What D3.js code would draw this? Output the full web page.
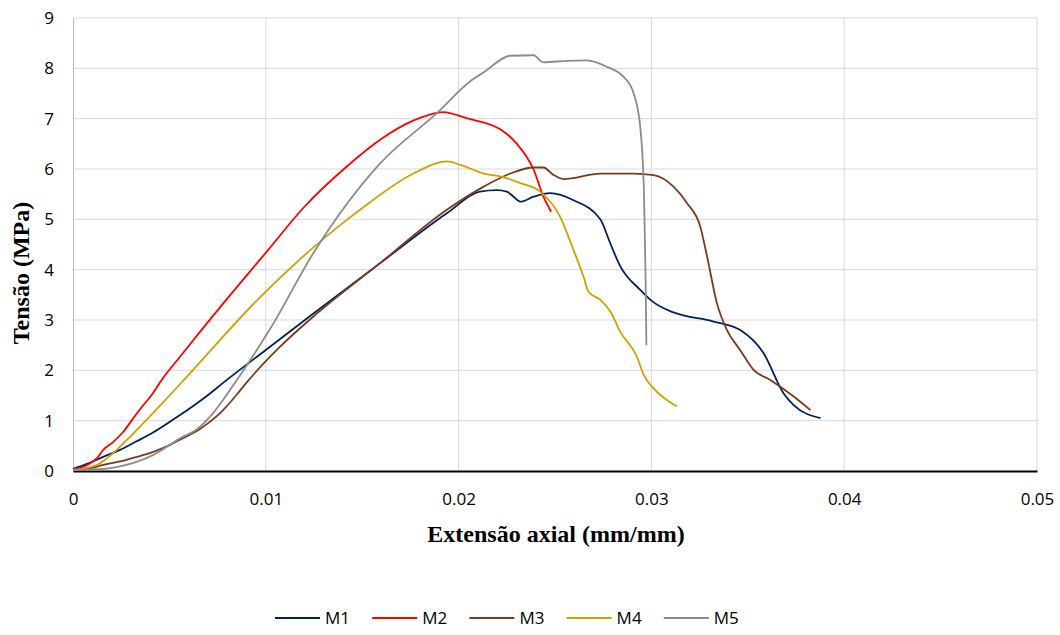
<!DOCTYPE html>
<html lang="pt">
<head>
<meta charset="UTF-8">
<title>Tensão x Extensão axial</title>
<script src="https://d3js.org/d3.v7.min.js"></script>
<style>
  body { margin: 0; background: #fff; }
  .tick text { font-family: "Open Sans", "Liberation Sans", sans-serif; font-size: 17px; fill: #000; }
</style>
</head>
<body>
<svg id="chart" width="1060" height="635"></svg>
<script>
// data
const xTicks = [0, 0.01, 0.02, 0.03, 0.04, 0.05];
const yTicks = [0, 1, 2, 3, 4, 5, 6, 7, 8, 9];
const seriesNames = ['M1', 'M2', 'M3', 'M4', 'M5'];
const seriesColors = ['#002060', '#ff0000', '#7b3a1c', '#d4a000', '#8c8c8c'];

const m1x = [0, 0.0008, 0.00157, 0.00244, 0.0033, 0.00417, 0.00503, 0.0059, 0.0068, 0.00798, 0.01005, 0.01247, 0.01593, 0.01939, 0.0211, 0.02199, 0.0225, 0.02285, 0.0232, 0.02389, 0.02475, 0.02596, 0.02735, 0.02787, 0.02838, 0.02942, 0.03012, 0.03115, 0.03323, 0.03461, 0.03582, 0.03686, 0.03738, 0.03877];
const m1y = [0.04, 0.15, 0.28, 0.42, 0.59, 0.77, 0.98, 1.2, 1.45, 1.81, 2.42, 3.13, 4.13, 5.12, 5.55, 5.58, 5.55, 5.45, 5.35, 5.45, 5.52, 5.38, 5.0, 4.52, 4.07, 3.60, 3.35, 3.15, 2.97, 2.80, 2.34, 1.54, 1.31, 1.05];

const m2x = [0, 0.00036, 0.00088, 0.00123, 0.00157, 0.00209, 0.00261, 0.00313, 0.00365, 0.00408, 0.0046, 0.00555, 0.0079, 0.01005, 0.012, 0.0142, 0.016, 0.0177, 0.0192, 0.0204, 0.0222, 0.023, 0.0239, 0.0244, 0.0248];
const m2y = [0.03, 0.06, 0.15, 0.25, 0.42, 0.58, 0.78, 1.05, 1.31, 1.51, 1.81, 2.27, 3.38, 4.36, 5.25, 6.05, 6.6, 6.97, 7.13, 7.01, 6.78, 6.51, 5.98, 5.45, 5.15];

const m3x = [0, 0.00088, 0.00157, 0.00244, 0.0033, 0.00417, 0.00503, 0.00555, 0.0066, 0.00771, 0.0085, 0.0091, 0.01074, 0.01247, 0.01593, 0.01939, 0.0213, 0.02268, 0.02389, 0.0244, 0.02493, 0.02545, 0.02735, 0.02908, 0.03012, 0.03115, 0.03185, 0.03254, 0.03289, 0.0334, 0.03392, 0.03461, 0.0353, 0.03617, 0.03738, 0.03825];
const m3y = [0.02, 0.05, 0.12, 0.19, 0.28, 0.38, 0.52, 0.62, 0.84, 1.18, 1.52, 1.80, 2.47, 3.07, 4.13, 5.19, 5.65, 5.91, 6.03, 6.03, 5.88, 5.80, 5.91, 5.91, 5.88, 5.65, 5.32, 4.85, 4.26, 3.33, 2.80, 2.40, 2.01, 1.81, 1.48, 1.21];

const m4x = [0, 0.00123, 0.00175, 0.00227, 0.00296, 0.00365, 0.00434, 0.00503, 0.00573, 0.00962, 0.0142, 0.01489, 0.01766, 0.01939, 0.0201, 0.0213, 0.0222, 0.0232, 0.02423, 0.02527, 0.02596, 0.02648, 0.02674, 0.02735, 0.02787, 0.02838, 0.02925, 0.0296, 0.03012, 0.03133];
const m4y = [0.02, 0.12, 0.25, 0.42, 0.68, 0.95, 1.23, 1.51, 1.80, 3.42, 4.99, 5.19, 5.91, 6.15, 6.08, 5.91, 5.85, 5.72, 5.55, 5.05, 4.39, 3.86, 3.56, 3.40, 3.17, 2.77, 2.27, 1.91, 1.64, 1.28];

const m5x = [0, 0.00157, 0.00244, 0.0033, 0.00417, 0.00503, 0.00555, 0.0064, 0.0072, 0.0085, 0.01022, 0.01247, 0.01593, 0.01887, 0.02069, 0.0213, 0.02268, 0.02389, 0.0244, 0.02562, 0.02666, 0.0277, 0.02856, 0.02908, 0.02942, 0.02962, 0.0297, 0.02974];
const m5y = [0.02, 0.04, 0.09, 0.18, 0.32, 0.52, 0.65, 0.82, 1.12, 1.81, 2.82, 4.33, 6.11, 7.11, 7.77, 7.92, 8.25, 8.26, 8.12, 8.15, 8.16, 8.03, 7.83, 7.50, 6.84, 5.45, 3.79, 2.50];

const allX = [m1x, m2x, m3x, m4x, m5x];
const allY = [m1y, m2y, m3y, m4y, m5y];

const svg = d3.select('#chart');
const plot = { left: 73, right: 1037, top: 18, bottom: 471 };

const x = d3.scaleLinear().domain([0, 0.05]).range([plot.left, plot.right]);
const y = d3.scaleLinear().domain([0, 9]).range([plot.bottom, plot.top]);

// gridlines
svg.append('g')
    .selectAll('line')
    .data(yTicks.slice(1))
    .enter().append('line')
    .attr('x1', plot.left).attr('x2', plot.right)
    .attr('y1', d => y(d)).attr('y2', d => y(d))
    .attr('stroke', '#d9d9d9').attr('stroke-width', 1);

svg.append('g')
    .selectAll('line')
    .data(xTicks.slice(1))
    .enter().append('line')
    .attr('x1', d => x(d)).attr('x2', d => x(d))
    .attr('y1', plot.top).attr('y2', plot.bottom)
    .attr('stroke', '#d9d9d9').attr('stroke-width', 1);

// y axis
const yAxis = svg.append('g')
    .attr('transform', `translate(${plot.left},0)`)
    .call(d3.axisLeft(y).tickValues(yTicks).tickSize(0).tickPadding(19).tickFormat(d3.format('d')));
yAxis.select('.domain').attr('stroke', '#bfbfbf');

// x axis
const xAxis = svg.append('g')
    .attr('transform', `translate(0,${plot.bottom})`)
    .call(d3.axisBottom(x).tickValues(xTicks).tickSize(0).tickPadding(22).tickFormat(d => d === 0 ? '0' : d3.format('.2f')(d)));
xAxis.select('.domain').attr('stroke', '#000').attr('stroke-width', 2);

// lines
const line = d3.line()
    .x(d => x(d[0]))
    .y(d => y(d[1]))
    .curve(d3.curveMonotoneX);

seriesNames.forEach((name, i) => {
    const pts = allX[i].map((v, j) => [v, allY[i][j]]);
    svg.append('path')
        .datum(pts)
        .attr('fill', 'none')
        .attr('stroke', seriesColors[i])
        .attr('stroke-width', 1.8)
        .attr('d', line);
});

// axis titles
svg.append('text')
    .attr('x', 556)
    .attr('y', 542)
    .attr('text-anchor', 'middle')
    .style('font-family', '"Liberation Serif", serif')
    .style('font-weight', 'bold')
    .style('font-size', '24px')
    .text('Extensão axial (mm/mm)');

svg.append('text')
    .attr('transform', 'translate(29,273) rotate(-90)')
    .attr('text-anchor', 'middle')
    .style('font-family', '"Liberation Serif", serif')
    .style('font-weight', 'bold')
    .style('font-size', '24px')
    .text('Tensão (MPa)');

// legend
const legend = svg.append('g')
    .selectAll('.legend-item')
    .data(seriesNames)
    .enter().append('g')
    .attr('class', 'legend-item')
    .attr('transform', (d, i) => `translate(${275 + i * 97.2},618)`);

legend.append('line')
    .attr('x1', 0).attr('x2', 45)
    .attr('stroke', (d, i) => seriesColors[i])
    .attr('stroke-width', 2);

legend.append('text')
    .attr('x', 50)
    .attr('y', 6)
    .style('font-family', '"Open Sans", "Liberation Sans", sans-serif')
    .style('font-size', '17px')
    .text(d => d);
</script>
</body>
</html>
